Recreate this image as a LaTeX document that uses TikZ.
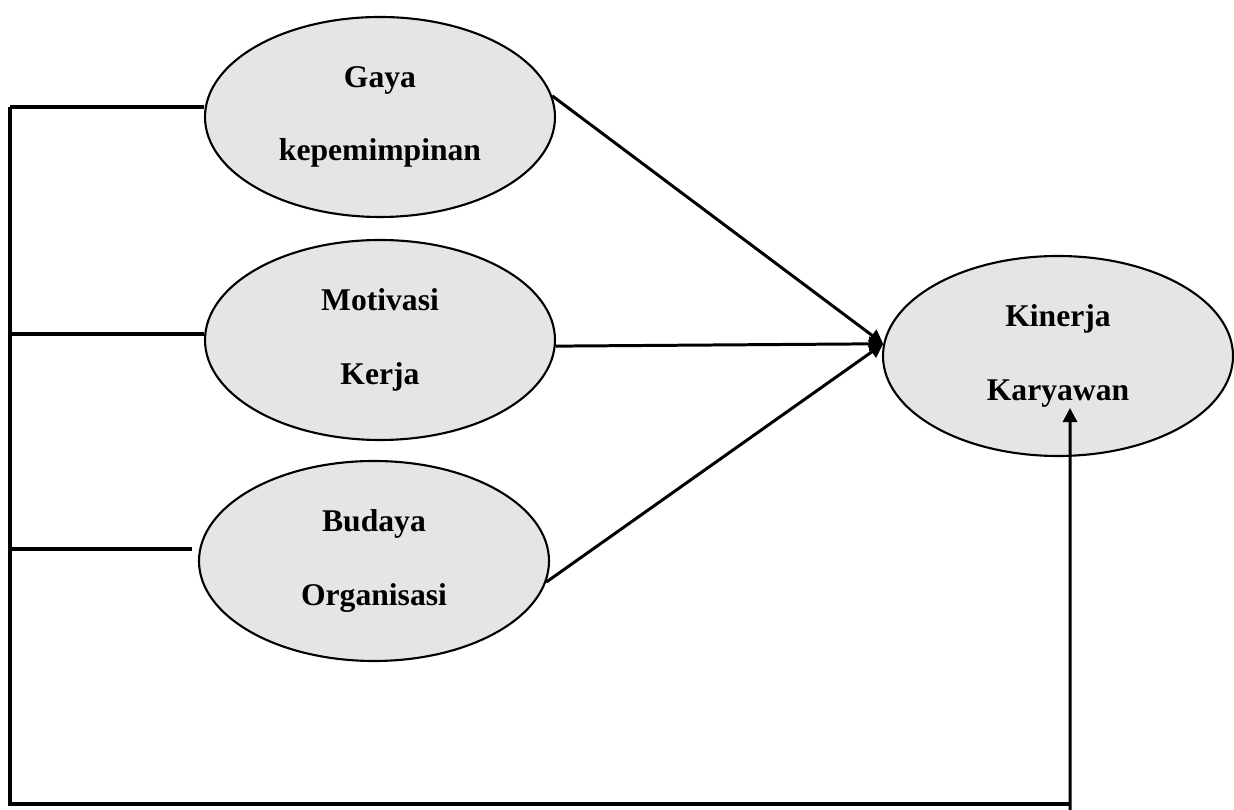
\documentclass[tikz,border=0pt]{standalone}
\usepackage{fontspec}
\setmainfont{Liberation Serif}
\usetikzlibrary{shapes.geometric,arrows.meta}

\tikzset{
  var/.style={ellipse,draw=black,line width=1.2pt,fill=black!10,minimum width=7cm,minimum height=4cm,inner sep=0pt,align=center,font=\fontsize{18}{42}\selectfont\bfseries},
  rail/.style={black,line width=2pt},
  link/.style={black,line width=1.7pt,-{Triangle[length=8pt,width=8pt]}}
}

\begin{document}
\begin{tikzpicture}
\useasboundingbox (0,0) rectangle (24.68,16.2);

\node[var] (gaya) at (7.6,13.86) {Gaya\\kepemimpinan};
\node[var] (motivasi) at (7.6,9.4) {Motivasi\\Kerja};
\node[var] (budaya) at (7.48,4.98) {Budaya\\Organisasi};
\node[var] (kinerja) at (21.16,9.08) {Kinerja\\Karyawan};

\coordinate (railtop) at (0.2,14.06);
\coordinate (railbot) at (0.2,0.12);
\coordinate (railend) at (21.4,0.12);
\coordinate (kstart) at (21.4,0);

\draw[rail] (railtop) -- (railbot) -- (railend);
\draw[rail] (railtop) -- (gaya.west |- railtop);
\draw[rail] (motivasi.178) -- (motivasi.178 -| railtop);
\draw[rail] ([xshift=-4pt]budaya.176) -- (budaya.176 -| railtop);

\draw[link] (gaya.7) -- (kinerja.176);
\draw[link] (motivasi.358) -- (kinerja.176);
\draw[link] (budaya.-7) -- (kinerja.176);
\draw[link] (kstart) -- ([xshift=0.24cm,yshift=-1.04cm]kinerja.center);
\end{tikzpicture}
\end{document}
